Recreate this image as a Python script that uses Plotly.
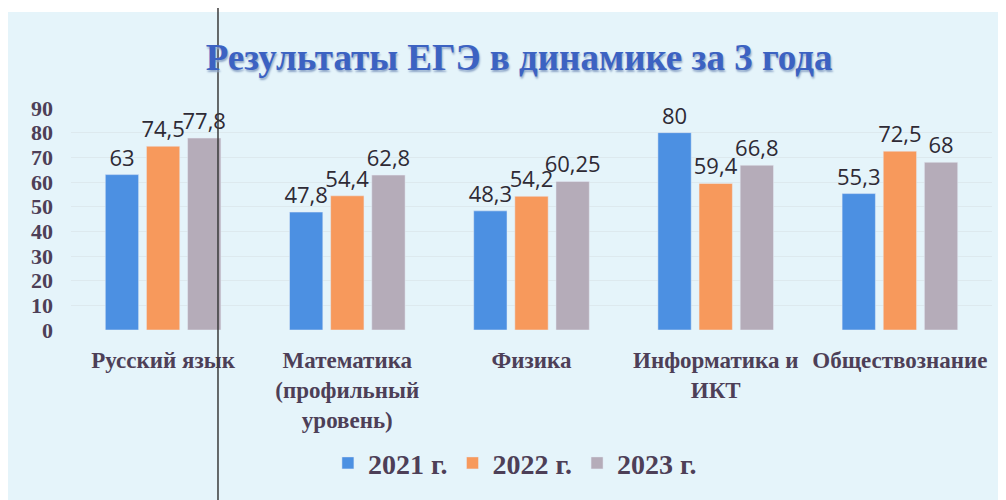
import plotly.graph_objects as go

subjects = [
    "Русский язык",
    "Математика<br>(профильный<br>уровень)",
    "Физика",
    "Информатика и<br>ИКТ",
    "Обществознание",
]
years = ["2021 г.", "2022 г.", "2023 г."]
scores_2021 = [63, 47.8, 48.3, 80, 55.3]
scores_2022 = [74.5, 54.4, 54.2, 59.4, 72.5]
scores_2023 = [77.8, 62.8, 60.25, 66.8, 68]
y_ticks = [0, 10, 20, 30, 40, 50, 60, 70, 80, 90]

colors = ["#4c90e2", "#f7995c", "#b5acb9"]
serif = "Liberation Serif, Times New Roman, serif"
text_col = "#4d3f57"


def ru(v):
    # decimal comma as in the original
    return str(v).replace(".", ",")


fig = go.Figure()
for name, vals, col in zip(years, [scores_2021, scores_2022, scores_2023], colors):
    fig.add_trace(go.Bar(
        x=subjects, y=vals, name=name, marker_color=col,
        text=[ru(v) for v in vals], textposition="outside",
        textfont=dict(family="Open Sans, Noto Sans, sans-serif", size=22, color="#2e2a35"),
        cliponaxis=False,
    ))

# scan background: light blue sheet with white border on top and right
fig.add_shape(type="rect", xref="paper", yref="paper", x0=-0.08, x1=1.0087,
              y0=-0.8, y1=1.432, fillcolor="#e5f4fa", line_width=0, layer="below")
# the dark vertical line from the scan
fig.add_shape(type="line", xref="paper", yref="paper", x0=0.1596, x1=0.1596,
              y0=-0.8, y1=1.49, line=dict(color="#3a3a3a", width=1.5), layer="above")

fig.update_layout(
    width=1006, height=500,
    paper_bgcolor="white", plot_bgcolor="rgba(0,0,0,0)",
    margin=dict(l=63, r=22, t=100, b=178, autoexpand=False),
    barmode="group", bargap=0.33, bargroupgap=0.19,
    uniformtext=dict(minsize=22, mode="show"),
    title=dict(
        text="<b>Результаты ЕГЭ в динамике за 3 года</b>",
        x=0.508, xanchor="center", y=0.902, yanchor="middle",
        font=dict(family=serif, size=37, color="#3c62c2", shadow="1px 2px 2px #8ea6c8"),
    ),
    yaxis=dict(
        range=[0, 90], tickvals=y_ticks, showgrid=True, gridcolor="#dde9ee", gridwidth=1,
        zeroline=False, showline=False, ticks="", ticklabelstandoff=17,
        tickfont=dict(family=serif, size=22, color=text_col, weight="bold"),
    ),
    xaxis=dict(
        showline=False, ticks="", ticklabelstandoff=14,
        tickfont=dict(family=serif, size=23, color=text_col, weight="bold"),
    ),
    legend=dict(
        orientation="h", x=0.482, xanchor="center", y=-0.6, yanchor="middle",
        font=dict(family=serif, size=28, color=text_col, weight="bold"),
        bgcolor="rgba(0,0,0,0)", itemwidth=30,
    ),
)

fig.write_html("out.html")
